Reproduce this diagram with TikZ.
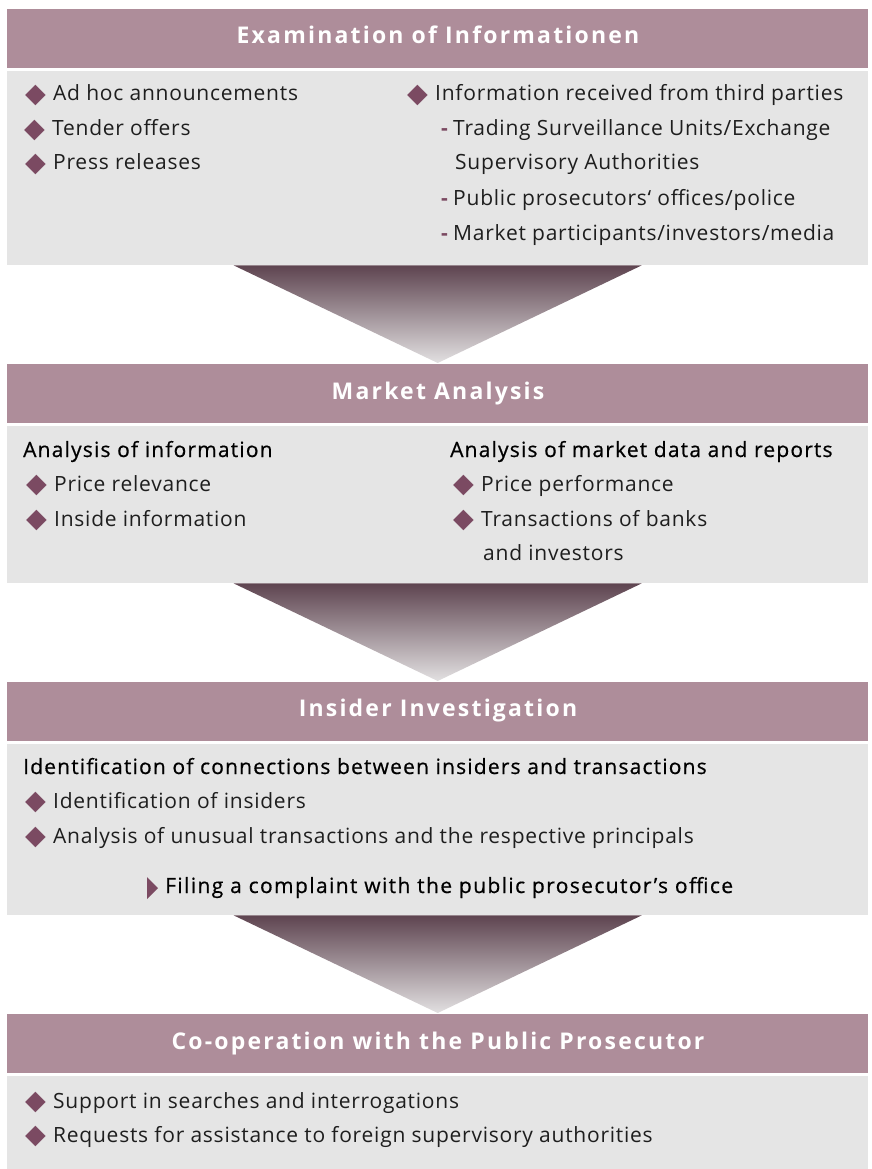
\documentclass[tikz,border=0pt]{standalone}
\usepackage{fontspec}
\setmainfont{Open Sans}[LetterSpace=3.6]
\newfontfamily\medf{Open Sans}[LetterSpace=5.6,FakeBold=0.6]
\newfontfamily\hdrf{Open Sans Bold}[LetterSpace=9.5]
\newfontfamily\symf{DejaVu Sans}
\usetikzlibrary{calc}
\definecolor{hdr}{HTML}{AE8D9A}
\definecolor{bodyg}{HTML}{E5E5E5}
\definecolor{dia}{HTML}{7B4A62}
\definecolor{tridark}{HTML}{5E4450}
\definecolor{trilight}{HTML}{E2E0E1}
\definecolor{txt}{HTML}{1E1E1E}
\newcommand{\dm}{\makebox[28pt][l]{\symf\fontsize{27}{27}\selectfont\color{dia}\raisebox{-1.5pt}{\char"25C6}}}
\newcommand{\ds}{\makebox[12pt][l]{\bfseries\color{dia}-}}
\begin{document}
\begin{tikzpicture}[x=1pt,y=-1pt,
  hdrbox/.style={fill=hdr,draw=none,minimum width=861pt,minimum height=59pt,inner sep=0pt,anchor=north west},
  bodybox/.style={fill=bodyg,draw=none,minimum width=861pt,inner sep=0pt,anchor=north west},
  title/.style={anchor=base,text=white,font=\hdrf\fontsize{23}{23}\selectfont,inner sep=0pt},
  item/.style={anchor=base west,text=txt,font=\fontsize{21}{21}\selectfont,inner sep=0pt},
  sub/.style={anchor=base west,text=black,font=\medf\fontsize{21}{21}\selectfont,inner sep=0pt},
  funnel/.style={top color=tridark,bottom color=trilight,draw=none}]
\useasboundingbox (0,0) rectangle (872,1169);
% boxes
\node[hdrbox] (h1) at (7,9) {};
\node[bodybox,minimum height=194pt] (b1) at (7,71) {};
\node[hdrbox] (h2) at (7,364) {};
\node[bodybox,minimum height=157pt] (b2) at (7,426) {};
\node[hdrbox] (h3) at (7,682) {};
\node[bodybox,minimum height=171pt] (b3) at (7,744) {};
\node[hdrbox] (h4) at (7,1014) {};
\node[bodybox,minimum height=93pt] (b4) at (7,1076) {};
% funnels
\shade[funnel] ($(b1.south)+(-204,0)$) -- ($(b1.south)+(204,0)$) -- ($(h2.north)+(0,-1)$) -- cycle;
\shade[funnel] ($(b2.south)+(-204,0)$) -- ($(b2.south)+(204,0)$) -- ($(h3.north)+(0,-1)$) -- cycle;
\shade[funnel] ($(b3.south)+(-204,0)$) -- ($(b3.south)+(204,0)$) -- ($(h4.north)+(0,-1)$) -- cycle;
% titles
\node[title] (t1) at (438,44) {Examination of Informationen};
\node[title] (t2) at (438,399) {Market Analysis};
\node[title] (t3) at (438,716) {Insider Investigation};
\node[title] (t4) at (438,1049) {Co-operation with the Public Prosecutor};
% box 1
\node[item] (a1) at (25,101) {\dm Ad hoc announcements};
\node[item] (a2) at (24,136) {\dm Tender offers};
\node[item] (a3) at (25,170) {\dm Press releases};
\node[item] (a4) at (407,101) {\dm Information received from third parties};
\node[item] (a5) at (441,136) {\ds Trading Surveillance Units/Exchange};
\node[item] (a6) at (455,170) {Supervisory Authorities};
\node[item] (a7) at (441,205) {\ds Public prosecutors‘ offices/police};
\node[item] (a8) at (441,240) {\ds Market participants/investors/media};
% box 2
\node[sub] (m1) at (23,457) {Analysis of information};
\node[item] (m2) at (26,491) {\dm Price relevance};
\node[item] (m3) at (26,526) {\dm Inside information};
\node[sub] (m4) at (450,457) {Analysis of market data and reports};
\node[item] (m5) at (453,491) {\dm Price performance};
\node[item] (m6) at (453,526) {\dm Transactions of banks};
\node[item] (m7) at (483,560) {and investors};
% box 3
\node[sub] (i1) at (23,774) {Identification of connections between insiders and transactions};
\node[item] (i2) at (25,808) {\dm Identification of insiders};
\node[item] (i3) at (25,843) {\dm Analysis of unusual transactions and the respective principals};
\fill[dia] (147,877) -- (158,888) -- (147,899) -- cycle;
\node[sub,font=\medf\fontsize{21}{21}\selectfont\addfontfeatures{LetterSpace=6.6}] (i4) at (165,893) {Filing a complaint with the public prosecutor’s office};
% box 4
\node[item] (c1) at (25,1108) {\dm Support in searches and interrogations};
\node[item] (c2) at (25,1142) {\dm Requests for assistance to foreign supervisory authorities};
\end{tikzpicture}
\end{document}
